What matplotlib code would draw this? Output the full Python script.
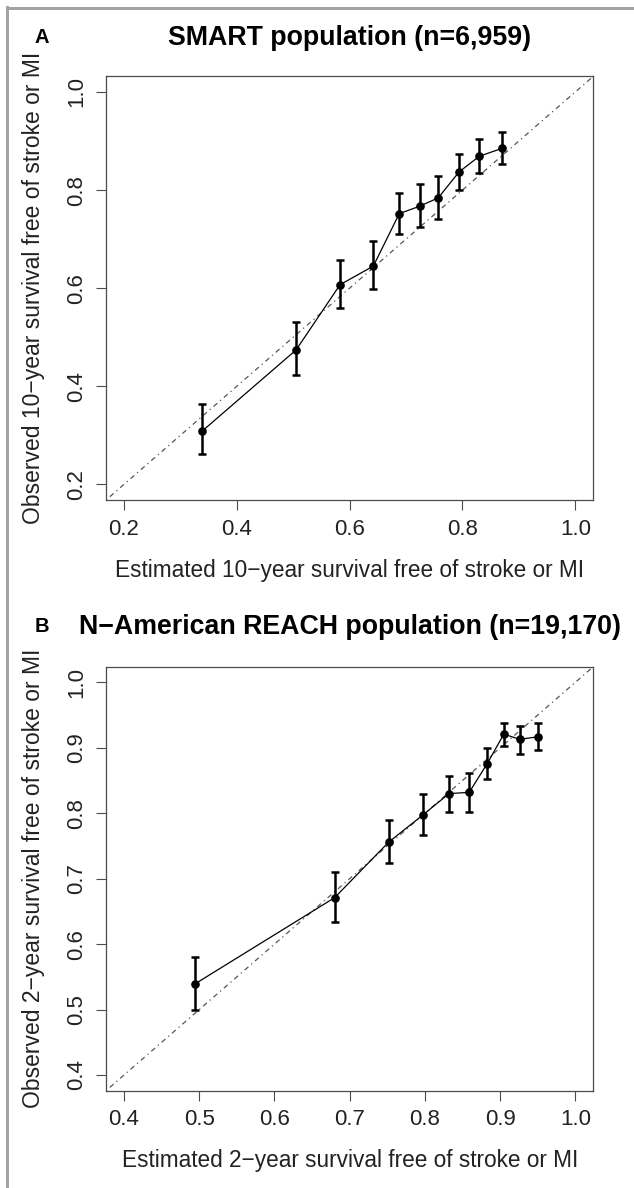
import matplotlib
matplotlib.use("Agg")
import matplotlib.pyplot as plt
from matplotlib.patches import Rectangle

plt.rcParams['font.family'] = ['Liberation Sans', 'DejaVu Sans']

# ---- Panel A data (SMART) ----
a_est = [0.338, 0.505, 0.583, 0.642, 0.688, 0.724, 0.757, 0.794, 0.830, 0.870]
a_obs = [0.308, 0.474, 0.607, 0.645, 0.752, 0.767, 0.784, 0.837, 0.869, 0.885]
a_lo = [0.261, 0.423, 0.559, 0.598, 0.711, 0.725, 0.742, 0.801, 0.835, 0.853]
a_hi = [0.363, 0.531, 0.658, 0.697, 0.795, 0.812, 0.828, 0.873, 0.904, 0.918]
a_ticks = [0.2, 0.4, 0.6, 0.8, 1.0]
a_lim = (0.2, 1.0)

# ---- Panel B data (N-American REACH) ----
b_est = [0.494, 0.680, 0.752, 0.797, 0.832, 0.859, 0.883, 0.905, 0.926, 0.951]
b_obs = [0.539, 0.671, 0.756, 0.797, 0.830, 0.832, 0.876, 0.921, 0.913, 0.917]
b_lo = [0.500, 0.634, 0.724, 0.767, 0.802, 0.802, 0.852, 0.903, 0.891, 0.896]
b_hi = [0.581, 0.710, 0.789, 0.829, 0.857, 0.862, 0.900, 0.938, 0.934, 0.938]
b_ticks = [0.4, 0.5, 0.6, 0.7, 0.8, 0.9, 1.0]
b_lim = (0.4, 1.0)

titles = ["SMART population (n=6,959)", "N\u2212American REACH population (n=19,170)"]
panel_letters = ["A", "B"]
xlabels = ["Estimated 10\u2212year survival free of stroke or MI",
           "Estimated 2\u2212year survival free of stroke or MI"]
ylabels = ["Observed 10\u2212year survival free of stroke or MI",
           "Observed 2\u2212year survival free of stroke or MI"]

W, H = 634, 1188
fig = plt.figure(figsize=(W / 100, H / 100), dpi=100)


def px_rect(l, t, r, b):
    return [l / W, 1 - b / H, (r - l) / W, (b - t) / H]


axes_px = [(106, 76.3, 593.3, 500), (106, 666.7, 593.3, 1090.7)]
letter_pos = [(42, 43), (42, 632)]
title_base = [45, 634.3]
xlabel_y = [570.7, 1160.7]

datasets = [(a_est, a_obs, a_lo, a_hi, a_ticks, a_lim),
            (b_est, b_obs, b_lo, b_hi, b_ticks, b_lim)]

spine_col = '#4a4a4a'
for i, (est, obs, lo, hi, ticks, lim) in enumerate(datasets):
    l, t, r, b = axes_px[i]
    ax = fig.add_axes(px_rect(l, t, r, b))
    span = lim[1] - lim[0]
    lo_l, hi_l = lim[0] - 0.04 * span, lim[1] + 0.04 * span
    ax.set_xlim(lo_l, hi_l)
    ax.set_ylim(lo_l, hi_l)
    # diagonal reference
    ax.plot([lo_l, hi_l], [lo_l, hi_l], color='#555555', lw=0.9,
            dashes=(1, 3, 4, 3), zorder=1)
    yerr = [[o - d for o, d in zip(obs, lo)], [u - o for o, u in zip(obs, hi)]]
    ax.errorbar(est, obs, yerr=yerr, fmt='none', ecolor='black',
                elinewidth=1.8, capsize=3.0, capthick=1.8, zorder=3)
    ax.plot(est, obs, '-o', color='black', lw=0.9, ms=5.2, zorder=4)
    ax.set_xticks(ticks)
    ax.set_yticks(ticks)
    ax.set_xticklabels([f"{v:.1f}" for v in ticks])
    ax.set_yticklabels([f"{v:.1f}" for v in ticks], rotation=90, va='center')
    ax.tick_params(axis='both', direction='out', length=7.5, width=0.8,
                   color=spine_col, labelsize=16, labelcolor='#222222')
    ax.tick_params(axis='x', pad=6)
    ax.tick_params(axis='y', pad=6)
    for s in ax.spines.values():
        s.set_color(spine_col)
        s.set_linewidth(0.9)
    ax.set_xlabel(xlabels[i], fontsize=16.3, color='#222222')
    ax.set_ylabel(ylabels[i], fontsize=16.5, color='#222222')
    hpx = b - t
    wpx = r - l
    ax.xaxis.set_label_coords(0.5, -(xlabel_y[i] - b) / hpx)
    ax.xaxis.label.set_va('center')
    ax.yaxis.set_label_coords(-(106 - 34) / wpx, 0.5)
    ax.yaxis.label.set_va('center')
    # title
    ax.text(0.5, 1 + (t - title_base[i]) / hpx, titles[i], transform=ax.transAxes,
            ha='center', va='baseline', fontsize=19.3, fontweight='bold')
    lx, ly = letter_pos[i]
    fig.text(lx / W, 1 - ly / H, panel_letters[i], ha='center', va='baseline',
             fontsize=14.5, fontweight='bold')

# gray frame lines (left and top)
gray = '#a3a3a3'
fig.add_artist(Rectangle((6 / W, 0), 3 / W, 1 - 6 / H, transform=fig.transFigure,
                         color=gray, lw=0))
fig.add_artist(Rectangle((6 / W, 1 - 9.5 / H), 1 - 6 / W, 3 / H,
                         transform=fig.transFigure, color=gray, lw=0))

fig.savefig("out.png", dpi=100)
